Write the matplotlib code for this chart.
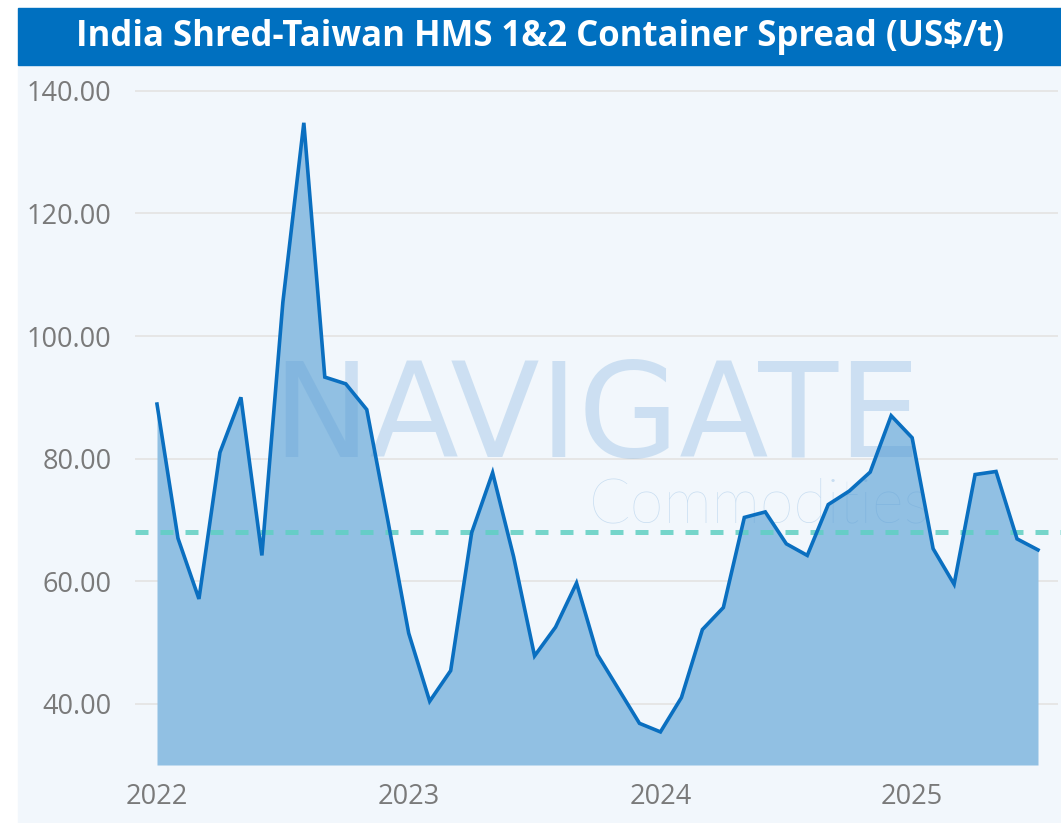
import matplotlib
matplotlib.use("Agg")
import matplotlib.pyplot as plt
from matplotlib.patches import Rectangle

# monthly spread, Jan 2022 - Jul 2025 (US$/t)
spread = [88.9, 67.0, 57.1, 81.0, 90.0, 64.2, 105.5, 134.8, 93.3, 92.2, 88.0, 70.0,
          51.5, 40.4, 45.4, 67.9, 77.7, 64.0, 47.8, 52.5, 59.7, 48.0, 42.4, 36.8,
          35.4, 41.0, 52.1, 55.7, 70.4, 71.3, 66.1, 64.2, 72.5, 74.7, 77.8, 87.0,
          83.4, 65.3, 59.5, 77.4, 77.9, 66.9, 65.1]
months = list(range(len(spread)))
average = 68.0
year_ticks = [0, 12, 24, 36]
year_labels = ["2022", "2023", "2024", "2025"]
y_ticks = [40, 60, 80, 100, 120, 140]

W, H = 1061, 823
fig = plt.figure(figsize=(W / 100, H / 100), dpi=100, facecolor="white")

# panel background and title bar (behind the axes)
fig.patches.append(Rectangle((18 / W, 0), 1 - 18 / W, (H - 64) / H,
                             transform=fig.transFigure, color="#f2f7fc", zorder=-2))
fig.patches.append(Rectangle((18 / W, (H - 65) / H), 1 - 18 / W, 57 / H,
                             transform=fig.transFigure, color="#0070c0", zorder=-2))
fig.text((18 + W) / 2 / W, (H - 37) / H,
         "India Shred-Taiwan HMS 1&2 Container Spread (US$/t)",
         ha="center", va="center", color="white", fontsize=25,
         fontweight="bold", family="Open Sans")

ax = fig.add_axes([135 / W, (H - 765) / H, (1058 - 135) / W, (765 - 75) / H])
ax.set_facecolor("none")

ax.fill_between(months, spread, 30, color="#91c0e3", lw=0, zorder=2)
ax.plot(months, spread, color="#0a6fc0", lw=2.6, zorder=5, solid_joinstyle="miter")
ax.axhline(average, color="#5fd0c2", lw=3.6, ls=(0, (2.6, 2.4)), zorder=4,
           xmax=1.01, clip_on=False, alpha=0.85)

# watermark
ax.text(0.5, 0.446, "NAVIGATE", transform=ax.transAxes, ha="center",
        va="baseline", fontsize=94, family="DejaVu Sans", color="#5b9bd5",
        alpha=0.25, zorder=3)
ax.text(0.677, 0.352, "Commodities", transform=ax.transAxes, ha="center",
        va="baseline", fontsize=44, family="Lato", fontweight="light",
        color="#5b9bd5", alpha=0.28, zorder=3)

ax.set_ylim(30, 142.6)
ax.set_xlim(-22 / 20.98, 42 + 20 / 20.98)
ax.set_yticks(y_ticks)
ax.set_yticklabels([f"{v:.2f}" for v in y_ticks])
ax.set_xticks(year_ticks)
ax.set_xticklabels(year_labels)
ax.grid(axis="y", color="#e6e6e6", lw=1.4, zorder=1)
ax.set_axisbelow(True)
for s in ax.spines.values():
    s.set_visible(False)
ax.tick_params(length=0, labelsize=19.5, labelcolor="#7a7a7a")
ax.tick_params(axis="y", pad=17)
ax.tick_params(axis="x", pad=13)
for lab in ax.get_xticklabels() + ax.get_yticklabels():
    lab.set_family("Open Sans")

fig.savefig("out.png", dpi=100, facecolor="white")
